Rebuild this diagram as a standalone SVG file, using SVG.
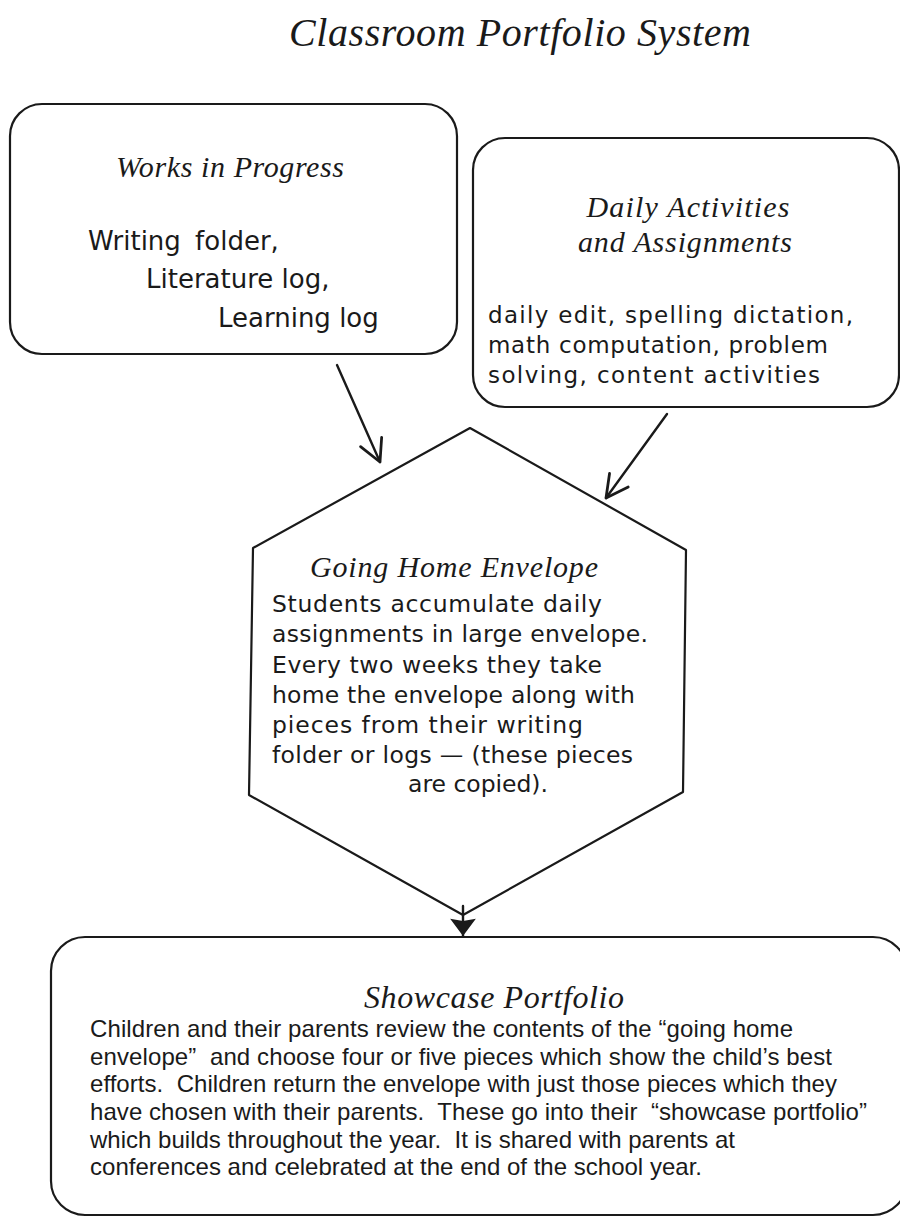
<svg xmlns="http://www.w3.org/2000/svg" width="900" height="1217" viewBox="0 0 900 1217">
<style>
.bg{fill:#fff}
.shape{fill:none;stroke:#1a1a1a;stroke-width:2.2;stroke-linejoin:round}
.conn{fill:none;stroke:#1a1a1a;stroke-width:2.4;stroke-linecap:round}
.head{font-family:"Liberation Serif","DejaVu Serif",serif;font-style:italic;fill:#1a1a1a}
.body{font-family:"DejaVu Sans","Liberation Sans",sans-serif;fill:#1a1a1a}
.small{font-family:"Liberation Sans",Arial,sans-serif;fill:#1a1a1a;font-size:24px}
</style>
<defs>
<marker id="vhead" markerUnits="userSpaceOnUse" markerWidth="30" markerHeight="30" viewBox="-22 -12 26 24" refX="0" refY="0" orient="auto">
<path d="M-19,-10 L0,0 L-19,10" fill="none" stroke="#1a1a1a" stroke-width="2.4" stroke-linecap="round" stroke-linejoin="round"/>
</marker>
<marker id="fhead" markerUnits="userSpaceOnUse" markerWidth="30" markerHeight="30" viewBox="-18 -14 20 28" refX="0" refY="0" orient="auto">
<path d="M0,0 L-16,-12 L-14,0 L-16,12 Z" fill="#1a1a1a"/>
</marker>
</defs>
<rect class="bg" x="0" y="0" width="900" height="1217"/>

<g id="title">
<text class="head" x="520" y="46" font-size="40" text-anchor="middle" textLength="462">Classroom Portfolio System</text>
</g>

<g id="works-in-progress">
<rect class="shape" x="10" y="104" width="447" height="250" rx="32" ry="32"/>
<text class="head" x="230" y="177" font-size="30" text-anchor="middle" textLength="228">Works in Progress</text>
<text class="body" font-size="26" x="88" y="250" word-spacing="6">Writing folder,</text>
<text class="body" font-size="26" x="146" y="288">Literature log,</text>
<text class="body" font-size="26" x="218" y="327">Learning log</text>
</g>

<g id="daily-activities">
<rect class="shape" x="473" y="138" width="426" height="269" rx="32" ry="32"/>
<text class="head" x="688" y="217" font-size="30" text-anchor="middle" textLength="203">Daily Activities</text>
<text class="head" x="685" y="252" font-size="30" text-anchor="middle" textLength="214">and Assignments</text>
<text class="body" font-size="23" x="488" y="323" textLength="365">daily edit, spelling dictation,</text>
<text class="body" font-size="23" x="488" y="353" textLength="340">math computation, problem</text>
<text class="body" font-size="23" x="488" y="383" textLength="332">solving, content activities</text>
</g>

<g id="going-home-envelope">
<polygon class="shape" points="470,428 686,550 683,792 463,915 249,795 253,548"/>
<text class="head" x="454" y="577" font-size="30" text-anchor="middle" textLength="288">Going Home Envelope</text>
<text class="body" font-size="23.5" x="272" y="612" textLength="330">Students accumulate daily</text>
<text class="body" font-size="23.5" x="272" y="642" textLength="376">assignments in large envelope.</text>
<text class="body" font-size="23.5" x="272" y="673" textLength="330">Every two weeks they take</text>
<text class="body" font-size="23.5" x="272" y="703" textLength="363">home the envelope along with</text>
<text class="body" font-size="23.5" x="272" y="733" textLength="311">pieces from their writing</text>
<text class="body" font-size="23.5" x="272" y="763" textLength="361">folder or logs — (these pieces</text>
<text class="body" font-size="23.5" x="408" y="792" textLength="140">are copied).</text>
</g>

<g id="showcase-portfolio">
<rect class="shape" x="51" y="937" width="856" height="278" rx="34" ry="34"/>
<text class="head" x="494" y="1008" font-size="32" text-anchor="middle" textLength="260">Showcase Portfolio</text>
<text class="small" x="90" y="1037" textLength="703">Children and their parents review the contents of the “going home</text>
<text class="small" x="90" y="1065" xml:space="preserve" textLength="742">envelope”  and choose four or five pieces which show the child’s best</text>
<text class="small" x="90" y="1092" xml:space="preserve" textLength="747">efforts.  Children return the envelope with just those pieces which they</text>
<text class="small" x="90" y="1120" xml:space="preserve" textLength="777">have chosen with their parents.  These go into their  “showcase portfolio”</text>
<text class="small" x="90" y="1148" xml:space="preserve" textLength="645">which builds throughout the year.  It is shared with parents at</text>
<text class="small" x="90" y="1175" textLength="612">conferences and celebrated at the end of the school year.</text>
</g>

<g id="connectors">
<line class="conn" x1="337" y1="365" x2="380" y2="462" marker-end="url(#vhead)"/>
<line class="conn" x1="667" y1="414" x2="606" y2="498" marker-end="url(#vhead)"/>
<line class="conn" x1="463" y1="906" x2="463" y2="936" marker-end="url(#fhead)"/>
</g>
</svg>
